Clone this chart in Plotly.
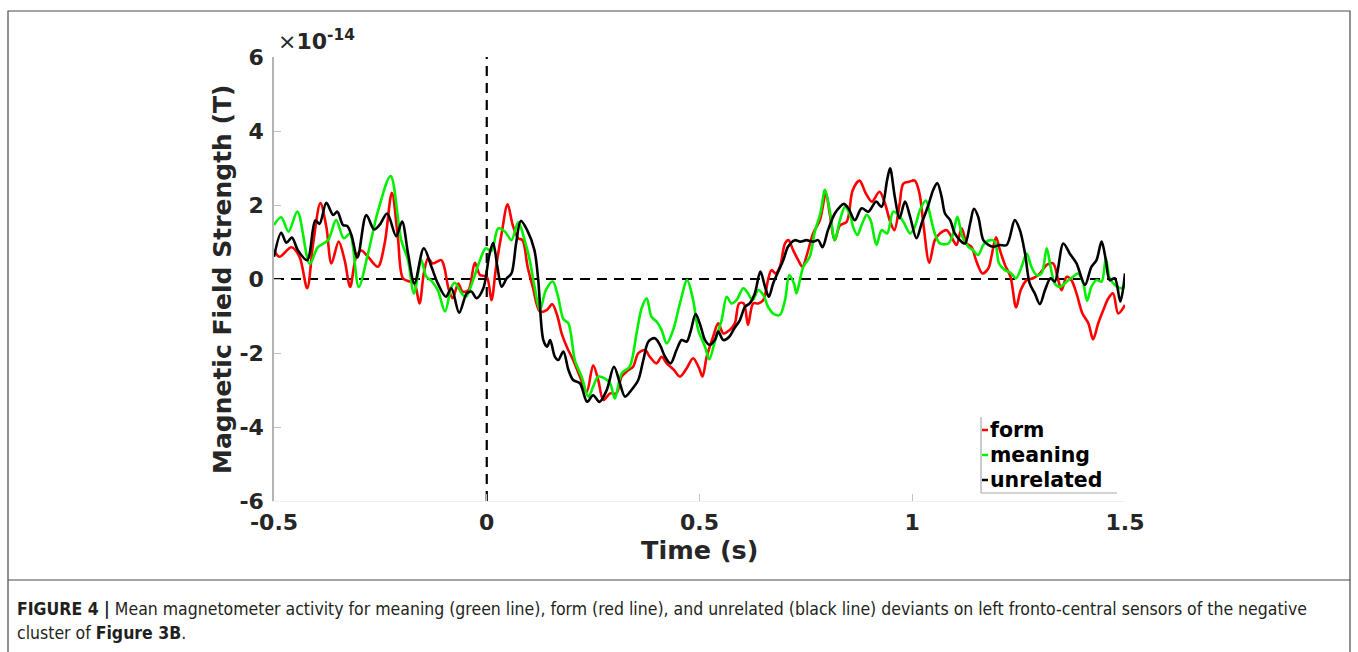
import plotly.graph_objects as go

# Mean magnetometer activity, values in units of 1e-14 T
t_form = [-0.500, -0.487, -0.459, -0.440, -0.422, -0.408, -0.391, -0.377, -0.365, -0.348,
          -0.334, -0.321, -0.307, -0.295, -0.279, -0.256, -0.240, -0.223, -0.209, -0.197,
          -0.181, -0.170, -0.158, -0.148, -0.138, -0.127, -0.107, -0.100, -0.090, -0.080,
          -0.067, -0.057, -0.043, -0.028, -0.016, 0.000, 0.011, 0.022, 0.035, 0.049,
          0.061, 0.074, 0.084, 0.096, 0.108, 0.125, 0.141, 0.154, 0.166, 0.176,
          0.188, 0.203, 0.219, 0.235, 0.250, 0.262, 0.274, 0.290, 0.305, 0.317,
          0.333, 0.344, 0.356, 0.372, 0.383, 0.399, 0.411, 0.423, 0.440, 0.454,
          0.470, 0.485, 0.499, 0.507, 0.517, 0.532, 0.544, 0.556, 0.571, 0.583,
          0.593, 0.604, 0.614, 0.626, 0.638, 0.650, 0.661, 0.669, 0.679, 0.689,
          0.701, 0.709, 0.720, 0.732, 0.742, 0.751, 0.767, 0.783, 0.797, 0.806,
          0.818, 0.830, 0.846, 0.860, 0.876, 0.891, 0.905, 0.923, 0.936, 0.948,
          0.958, 0.970, 0.979, 0.993, 1.006, 1.017, 1.026, 1.040, 1.053, 1.065,
          1.081, 1.092, 1.104, 1.116, 1.128, 1.139, 1.151, 1.165, 1.179, 1.186,
          1.197, 1.206, 1.218, 1.231, 1.244, 1.255, 1.269, 1.284, 1.300, 1.316,
          1.331, 1.343, 1.351, 1.363, 1.374, 1.386, 1.400, 1.414, 1.425, 1.437,
          1.449, 1.461, 1.472, 1.484, 1.500]
y_form = [0.78, 0.60, 0.86, 0.60, -0.25, 0.96, 2.05, 1.41, 0.42, 1.01,
          0.51, -0.21, 0.60, 0.77, 0.60, 0.33, 0.96, 2.33, 1.14, 0.02,
          -0.07, -0.12, -0.66, 0.15, 0.56, 0.42, 0.51, 0.33, -0.25, -0.52,
          -0.12, -0.34, -0.30, 0.44, 0.11, 0.06, -0.57, 0.33, 1.23, 2.02,
          1.46, 1.10, 1.05, 0.33, -0.21, -0.88, -0.84, -0.68, -1.00, -1.47,
          -1.83, -2.19, -2.64, -3.05, -2.33, -2.73, -3.27, -3.09, -3.09, -2.64,
          -2.46, -2.37, -2.01, -1.92, -2.10, -2.28, -2.10, -2.28, -2.46, -2.64,
          -2.41, -2.14, -2.41, -2.64, -2.10, -1.56, -1.20, -1.47, -1.38, -1.20,
          -0.66, -0.66, -1.24, -0.66, -0.66, -0.57, -0.03, 0.24, 0.15, 0.33,
          0.96, 1.05, 0.78, 0.51, 0.33, 0.60, 1.23, 1.59, 2.32, 1.77,
          1.05, 1.45, 1.55, 2.40, 2.66, 2.31, 2.09, 2.36, 2.04, 1.55,
          1.32, 2.00, 2.58, 2.63, 2.66, 2.31, 1.50, 0.44, 1.05, 1.23,
          1.32, 1.14, 0.92, 1.37, 0.96, 0.87, 0.47, 0.15, 0.29, 0.60,
          1.13, 0.78, 0.38, 0.06, -0.77, -0.30, -0.03, 0.02, 0.15, 0.38,
          0.42, -0.03, -0.30, 0.06, -0.03, -0.39, -0.93, -1.20, -1.63, -1.20,
          -0.84, -0.52, -0.39, -0.93, -0.70]

t_meaning = [-0.500, -0.483, -0.466, -0.445, -0.416, -0.397, -0.373, -0.354, -0.336, -0.322,
             -0.301, -0.279, -0.256, -0.226, -0.201, -0.185, -0.171, -0.154, -0.142, -0.130,
             -0.115, -0.098, -0.083, -0.075, -0.059, -0.049, -0.032, -0.016, -0.002, 0.011,
             0.027, 0.043, 0.058, 0.074, 0.090, 0.101, 0.113, 0.125, 0.139, 0.155,
             0.167, 0.180, 0.192, 0.207, 0.223, 0.239, 0.250, 0.262, 0.278, 0.290,
             0.301, 0.317, 0.336, 0.352, 0.364, 0.376, 0.387, 0.399, 0.411, 0.423,
             0.438, 0.454, 0.471, 0.485, 0.497, 0.513, 0.523, 0.536, 0.552, 0.564,
             0.575, 0.587, 0.603, 0.614, 0.625, 0.638, 0.650, 0.661, 0.675, 0.689,
             0.701, 0.711, 0.722, 0.728, 0.736, 0.744, 0.759, 0.771, 0.784, 0.795,
             0.806, 0.818, 0.830, 0.842, 0.854, 0.861, 0.871, 0.881, 0.893, 0.902,
             0.916, 0.928, 0.941, 0.955, 0.967, 0.979, 0.995, 1.006, 1.018, 1.032,
             1.043, 1.053, 1.065, 1.085, 1.096, 1.106, 1.118, 1.132, 1.143, 1.155,
             1.167, 1.183, 1.194, 1.204, 1.218, 1.231, 1.244, 1.257, 1.269, 1.280,
             1.292, 1.304, 1.316, 1.325, 1.335, 1.347, 1.363, 1.378, 1.390, 1.402,
             1.411, 1.421, 1.433, 1.445, 1.455, 1.464, 1.476, 1.488, 1.500]
y_meaning = [1.46, 1.67, 1.28, 1.82, 0.41, 0.86, 1.05, 1.59, 1.10, 1.22,
             -0.21, 0.69, 1.82, 2.78, 1.05, 0.51, -0.39, 0.51, 0.06, -0.05,
             -0.30, -0.88, -0.21, -0.10, -0.39, -0.48, -0.03, 0.51, 0.83, 0.75,
             1.37, 1.28, 1.05, 1.53, 1.01, 0.51, -0.25, -0.84, -0.30, -0.07,
             -0.45, -1.08, -1.20, -2.19, -2.64, -3.18, -2.91, -2.64, -2.69, -2.82,
             -3.23, -2.55, -2.37, -1.47, -0.79, -0.52, -1.02, -1.15, -1.38, -1.74,
             -1.38, -0.66, -0.03, -0.57, -1.38, -1.83, -2.17, -1.69, -1.11, -0.48,
             -0.66, -0.57, -0.25, -0.39, -0.57, -0.30, -0.43, -0.75, -0.95, -0.97,
             -0.57, 0.11, -0.12, -0.39, -0.03, 0.33, 0.60, 1.28, 1.77, 2.41,
             1.86, 1.05, 1.59, 1.95, 1.73, 1.41, 1.19, 1.46, 1.73, 1.59,
             0.92, 1.32, 1.23, 1.82, 1.73, 1.55, 1.23, 1.41, 1.86, 2.12,
             1.68, 1.23, 0.96, 0.96, 1.23, 1.68, 1.14, 0.87, 0.78, 0.65,
             0.92, 1.05, 1.01, 0.42, 0.24, 0.17, 0.02, 0.33, 0.69, 0.33,
             0.11, 0.15, 0.83, 0.33, -0.12, -0.21, -0.07, 0.06, 0.15, -0.12,
             -0.59, -0.21, -0.03, -0.07, 0.56, 0.02, -0.16, -0.25, -0.21]

t_unrelated = [-0.500, -0.483, -0.471, -0.458, -0.444, -0.422, -0.403, -0.393, -0.377, -0.361,
               -0.351, -0.338, -0.328, -0.318, -0.304, -0.283, -0.265, -0.252, -0.234, -0.213,
               -0.199, -0.185, -0.170, -0.148, -0.130, -0.115, -0.096, -0.083, -0.065, -0.047,
               -0.036, -0.024, -0.008, 0.006, 0.015, 0.025, 0.035, 0.047, 0.058, 0.069,
               0.080, 0.095, 0.112, 0.121, 0.133, 0.142, 0.149, 0.160, 0.168, 0.180,
               0.192, 0.203, 0.219, 0.236, 0.250, 0.265, 0.282, 0.299, 0.313, 0.325,
               0.340, 0.356, 0.368, 0.380, 0.395, 0.407, 0.419, 0.432, 0.446, 0.458,
               0.470, 0.479, 0.491, 0.503, 0.513, 0.524, 0.536, 0.544, 0.556, 0.570,
               0.582, 0.595, 0.607, 0.618, 0.630, 0.643, 0.654, 0.663, 0.673, 0.683,
               0.697, 0.708, 0.724, 0.737, 0.751, 0.767, 0.779, 0.789, 0.802, 0.818,
               0.830, 0.839, 0.850, 0.865, 0.881, 0.897, 0.915, 0.928, 0.941, 0.948,
               0.959, 0.970, 0.983, 0.995, 1.010, 1.022, 1.038, 1.049, 1.059, 1.069,
               1.077, 1.089, 1.100, 1.112, 1.124, 1.136, 1.145, 1.155, 1.167, 1.179,
               1.190, 1.206, 1.222, 1.241, 1.253, 1.265, 1.276, 1.288, 1.300, 1.312,
               1.325, 1.335, 1.355, 1.370, 1.386, 1.406, 1.421, 1.433, 1.445, 1.455,
               1.464, 1.476, 1.489, 1.500]
y_unrelated = [0.60, 1.25, 0.98, 1.12, 0.78, 0.51, 1.58, 1.49, 2.06, 1.73,
               1.82, 1.46, 1.43, 1.19, 0.58, 1.73, 1.34, 1.46, 1.77, 1.16,
               1.55, 0.69, -0.12, 0.83, 0.33, -0.12, -0.48, -0.25, -0.91, -0.39,
               -0.34, -0.52, -0.25, 0.65, 0.98, 0.33, -0.21, 0.02, 0.15, 0.96,
               1.57, 1.32, 0.78, -0.03, -1.65, -1.83, -1.65, -2.10, -2.19, -1.96,
               -2.46, -2.73, -2.82, -3.32, -3.14, -3.32, -3.00, -2.37, -2.82, -3.18,
               -3.00, -2.73, -2.19, -1.69, -1.60, -1.78, -2.10, -2.28, -1.92, -1.65,
               -1.69, -1.42, -0.95, -1.29, -1.65, -1.78, -1.65, -1.42, -1.65, -1.56,
               -1.33, -1.11, -0.75, -0.66, -0.39, 0.20, -0.21, -0.48, -0.12, 0.15,
               0.51, 0.87, 1.05, 1.01, 1.05, 1.01, 1.05, 0.86, 1.32, 1.77,
               1.95, 2.03, 1.91, 1.59, 1.91, 1.82, 2.09, 1.95, 2.68, 2.99,
               2.22, 1.64, 2.09, 1.68, 1.10, 1.50, 2.00, 2.40, 2.59, 2.22,
               1.77, 1.59, 1.23, 1.05, 0.96, 1.50, 1.90, 1.68, 1.05, 0.92,
               0.87, 0.92, 0.92, 1.59, 1.32, 0.69, -0.12, -0.39, -0.68, -0.30,
               0.02, -0.07, 0.96, 0.69, 0.42, -0.16, 0.33, 0.51, 1.01, 0.51,
               -0.03, 0.02, -0.61, 0.15]

series_names = ["form", "meaning", "unrelated"]
series_colors = ["#ff0000", "#00f000", "#000000"]

x_ticks = [-0.5, 0, 0.5, 1, 1.5]
x_tick_text = ["-0.5", "0", "0.5", "1", "1.5"]
y_ticks = [-6, -4, -2, 0, 2, 4, 6]
y_tick_text = ["-6", "-4", "-2", "0", "2", "4", "6"]

W, H = 1358, 652
L, R, T, B = 274, 1125, 57, 501   # plot area in pixels


def fx(p):
    return (p - L) / (R - L)


def fy(p):
    return (B - p) / (B - T)


ink = "#262626"
bold_font = dict(family="DejaVu Sans", size=22, color=ink, weight="bold")

fig = go.Figure()
for name, t, v, c in zip(series_names,
                         [t_form, t_meaning, t_unrelated],
                         [y_form, y_meaning, y_unrelated],
                         series_colors):
    fig.add_trace(go.Scatter(x=t, y=v, mode="lines", name=name, showlegend=False,
                             line=dict(color=c, width=2.6, shape="spline", smoothing=0.9)))

# dashed zero reference lines
dash = dict(color="black", width=2.2, dash="10px,7px")
fig.add_shape(type="line", xref="x", yref="y", x0=-0.5, x1=1.5, y0=0, y1=0, line=dash, layer="below")
fig.add_shape(type="line", xref="x", yref="y", x0=0, x1=0, y0=-6, y1=6, line=dash, layer="below")

fig.update_layout(
    width=W, height=H, autosize=False,
    margin=dict(l=L, r=W - R, t=T, b=H - B, pad=0),
    plot_bgcolor="white", paper_bgcolor="white",
    xaxis=dict(range=[-0.5, 1.5], tickvals=x_ticks, ticktext=x_tick_text,
               ticks="inside", ticklen=7, tickcolor="#c0c0c0", tickwidth=1.2,
               showline=True, linecolor="#f0f0f0", linewidth=1,
               showgrid=False, zeroline=False, tickfont=bold_font, ticklabelstandoff=2),
    yaxis=dict(range=[-6, 6], tickvals=y_ticks, ticktext=y_tick_text,
               ticks="inside", ticklen=7, tickcolor="#c0c0c0", tickwidth=1.2,
               showline=True, linecolor="#b4b4b4", linewidth=1.5,
               showgrid=False, zeroline=False, tickfont=bold_font, ticklabelstandoff=4),
)

title_font = dict(family="DejaVu Sans", size=25, color=ink, weight="bold")
ann = []
# axis titles
ann.append(dict(text="Magnetic Field Strength (T)", x=fx(222), y=fy(279), xref="paper", yref="paper",
                textangle=-90, showarrow=False, xanchor="center", yanchor="middle", font=title_font))
ann.append(dict(text="Time (s)", x=fx(699), y=fy(550), xref="paper", yref="paper",
                showarrow=False, xanchor="center", yanchor="middle",
                font=dict(family="DejaVu Sans", size=25.5, color=ink, weight="bold")))
# exponent of y axis
ann.append(dict(text="×<b>10<sup>-14</sup></b>", x=fx(276), y=fy(56), xref="paper", yref="paper",
                showarrow=False, xanchor="left", yanchor="bottom",
                font=dict(family="DejaVu Sans", size=22, color=ink)))

# legend box
legend_rows = [430, 455, 480]
for name, c, yy in zip(series_names, series_colors, legend_rows):
    fig.add_shape(type="line", xref="paper", yref="paper", x0=fx(982), x1=fx(988), y0=fy(yy), y1=fy(yy),
                  line=dict(color=c, width=2.5))
    ann.append(dict(text=name, x=fx(988), y=fy(yy), xref="paper", yref="paper", showarrow=False,
                    xanchor="left", yanchor="middle",
                    font=dict(family="DejaVu Sans", size=20.5, color="black", weight="bold")))
fig.add_shape(type="line", xref="paper", yref="paper", x0=fx(981), x1=fx(981), y0=fy(417), y1=fy(493),
              line=dict(color="#a8a8a8", width=1.2))
fig.add_shape(type="line", xref="paper", yref="paper", x0=fx(981), x1=fx(1117), y0=fy(493), y1=fy(493),
              line=dict(color="#a8a8a8", width=1.2))

# frame around figure and caption
frame = dict(color="#4a4a4a", width=1.2)
fig.add_shape(type="rect", xref="paper", yref="paper", x0=fx(8), x1=fx(1350), y0=fy(656), y1=fy(11),
              line=frame, fillcolor="rgba(0,0,0,0)")
fig.add_shape(type="line", xref="paper", yref="paper", x0=fx(8), x1=fx(1350), y0=fy(580), y1=fy(580),
              line=frame)

cap_font = dict(family="Liberation Sans Narrow, DejaVu Sans Condensed, sans-serif", size=17.5, color="#231f20")
ann.append(dict(text="<b>FIGURE 4 |</b> Mean magnetometer activity for meaning (green line), form (red line), "
                     "and unrelated (black line) deviants on left fronto-central sensors of the negative",
                x=fx(15), y=fy(609), xref="paper", yref="paper", showarrow=False,
                xanchor="left", yanchor="middle", font=cap_font))
ann.append(dict(text="cluster of <b>Figure 3B</b>.", x=fx(15), y=fy(633), xref="paper", yref="paper",
                showarrow=False, xanchor="left", yanchor="middle", font=cap_font))

fig.update_layout(annotations=ann)
fig.write_html("out.html")
